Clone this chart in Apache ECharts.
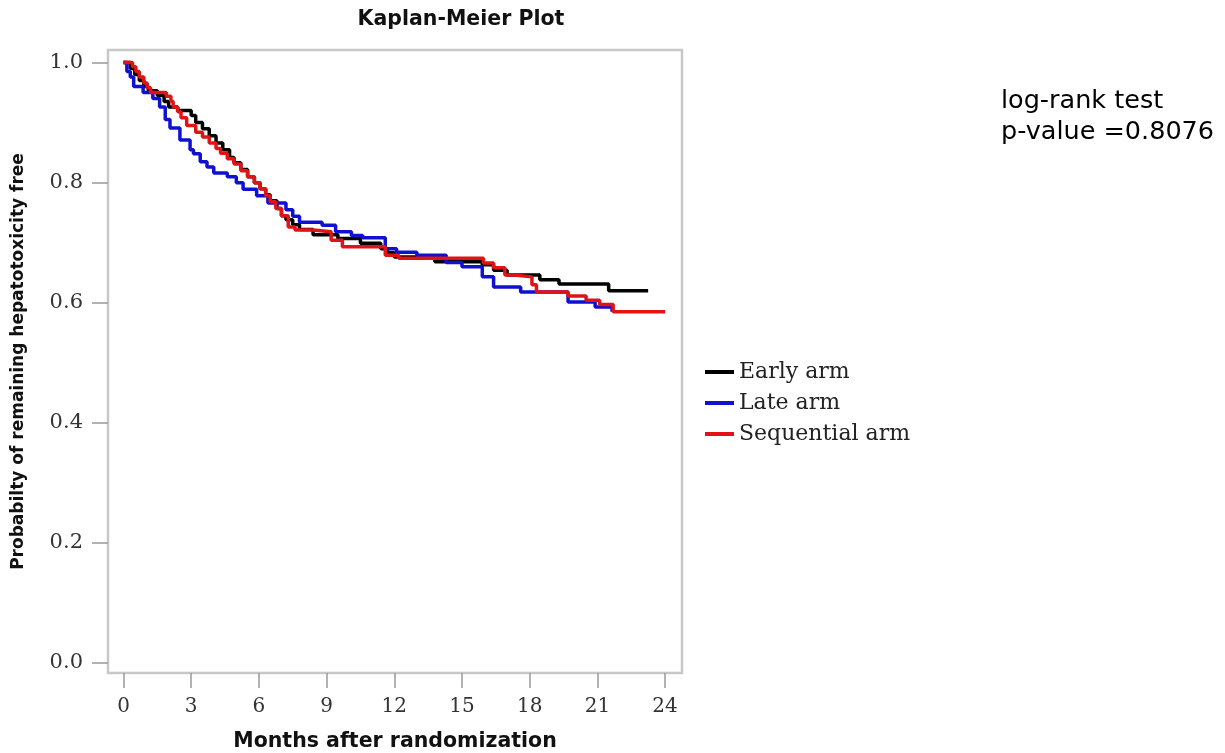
<!DOCTYPE html>
<html>
<head>
<meta charset="utf-8">
<script src="https://cdn.jsdelivr.net/npm/echarts@6/dist/echarts.min.js"></script>
<style>html,body{margin:0;padding:0;background:#fff;}#chart{width:1225px;height:753px;}</style>
</head>
<body>
<div id="chart"></div>
<script>
// ---- data ----
const seriesNames = ['Early arm', 'Late arm', 'Sequential arm'];
const xTicks = [0, 3, 6, 9, 12, 15, 18, 21, 24];
const yTicks = [0, 0.2, 0.4, 0.6, 0.8, 1.0];

const earlyT = [0, 0.3, 0.5, 0.7, 0.9, 1.1, 1.5, 1.8, 2.0, 2.4, 3.0, 3.2, 3.5, 3.8, 4.1, 4.4, 4.7, 4.9, 5.2, 5.5, 5.8, 6.05, 6.3, 6.5, 6.8, 7.0, 7.2, 7.5, 7.8, 8.4, 9.5, 10.5, 11.4, 11.7, 12.0, 13.8, 15.9, 16.4, 17.0, 18.45, 19.3, 21.5, 23.25];
const earlyS = [1.0, 0.99, 0.98, 0.97, 0.96, 0.953, 0.945, 0.935, 0.926, 0.92, 0.912, 0.9, 0.89, 0.878, 0.866, 0.855, 0.842, 0.833, 0.822, 0.81, 0.8, 0.79, 0.78, 0.77, 0.757, 0.745, 0.738, 0.73, 0.722, 0.713, 0.707, 0.699, 0.69, 0.683, 0.676, 0.668, 0.663, 0.654, 0.646, 0.638, 0.631, 0.62, 0.62];

const lateT = [0, 0.15, 0.3, 0.45, 0.87, 1.3, 1.6, 1.85, 2.06, 2.5, 2.95, 3.1, 3.4, 3.7, 4.0, 4.6, 5.0, 5.3, 5.9, 6.4, 7.2, 7.5, 7.8, 8.8, 9.4, 10.1, 10.6, 11.6, 12.1, 13.0, 14.3, 15.0, 15.9, 16.4, 17.6, 19.7, 20.9, 21.65];
const lateS = [1.0, 0.985, 0.976, 0.96, 0.95, 0.94, 0.926, 0.905, 0.891, 0.871, 0.855, 0.848, 0.835, 0.826, 0.816, 0.81, 0.8, 0.789, 0.778, 0.766, 0.755, 0.744, 0.734, 0.729, 0.718, 0.712, 0.708, 0.69, 0.684, 0.679, 0.667, 0.66, 0.643, 0.626, 0.618, 0.601, 0.593, 0.585];

const seqT = [0, 0.4, 0.55, 0.7, 0.9, 1.05, 1.2, 1.9, 2.1, 2.2, 2.4, 2.55, 2.8, 3.2, 3.5, 3.8, 4.1, 4.3, 4.6, 4.9, 5.2, 5.5, 5.8, 6.05, 6.3, 6.5, 6.75, 7.0, 7.3, 7.6, 8.4, 9.2, 9.7, 11.6, 12.2, 15.95, 16.4, 16.9, 17.3, 18.1, 18.3, 19.7, 20.5, 21.1, 21.7, 24.0];
const seqS = [1.0, 0.993, 0.985, 0.976, 0.966, 0.958, 0.95, 0.944, 0.935, 0.926, 0.918, 0.908, 0.895, 0.884, 0.876, 0.866, 0.857, 0.849, 0.84, 0.831, 0.82, 0.81, 0.8, 0.79, 0.778, 0.768, 0.757, 0.745, 0.726, 0.721, 0.718, 0.704, 0.693, 0.679, 0.674, 0.666, 0.658, 0.646, 0.643, 0.63, 0.618, 0.611, 0.604, 0.597, 0.585, 0.585];

const colors = ['#000000', '#1010d0', '#e01414'];

function zip(t, s) { return t.map((v, i) => [v, s[i]]); }
const allData = [zip(earlyT, earlyS), zip(lateT, lateS), zip(seqT, seqS)];

const chart = echarts.init(document.getElementById('chart'), null, { renderer: 'canvas' });
const serif = '"DejaVu Serif", "Liberation Serif", serif';
const sansB = '"DejaVu Sans", "Liberation Sans", sans-serif';

chart.setOption({
  animation: false,
  backgroundColor: '#ffffff',
  title: [
    { text: 'Kaplan-Meier Plot', left: 461, top: 9, textAlign: 'center', padding: 0,
      textStyle: { fontFamily: sansB, fontWeight: 'bold', fontSize: 20.5, color: '#111' } },
    { text: 'log-rank test\np-value =0.8076', left: 1001, top: 86, padding: 0,
      textStyle: { fontFamily: sansB, fontWeight: 'normal', fontSize: 25.5, lineHeight: 31, color: '#000' } }
  ],
  grid: { left: 108, right: 543, top: 50, bottom: 80, show: true, borderColor: '#c8c8c8', borderWidth: 2.5,
    backgroundColor: '#fff', outerBoundsMode: 'none', containLabel: false },
  legend: {
    orient: 'vertical', left: 705, top: 361, itemWidth: 29, itemHeight: 4, itemGap: 9, icon: 'rect',
    padding: 0,
    data: seriesNames,
    textStyle: { fontFamily: serif, fontSize: 22, lineHeight: 22, color: '#222' }
  },
  xAxis: {
    type: 'value', min: -0.687, max: 24.75,
    name: 'Months after randomization', nameLocation: 'middle', nameGap: 58,
    nameTextStyle: { fontFamily: sansB, fontWeight: 'bold', fontSize: 20.5, color: '#111' },
    axisLine: { show: false, onZero: false },
    axisTick: { show: true, length: 15, customValues: xTicks, lineStyle: { color: '#999', width: 1.5 } },
    axisLabel: { customValues: xTicks, margin: 24, fontFamily: serif, fontSize: 20, color: '#333' },
    splitLine: { show: false }
  },
  yAxis: {
    type: 'value', min: -0.017, max: 1.021,
    name: 'Probabilty of remaining hepatotoxicity free', nameLocation: 'middle', nameGap: 81,
    nameTextStyle: { fontFamily: sansB, fontWeight: 'bold', fontSize: 17, color: '#111' },
    axisLine: { show: false, onZero: false },
    axisTick: { show: true, length: 16, customValues: yTicks, lineStyle: { color: '#999', width: 1.5 } },
    axisLabel: { customValues: yTicks, margin: 25, fontFamily: serif, fontSize: 21, color: '#333',
      formatter: v => v.toFixed(1) },
    splitLine: { show: false }
  },
  series: seriesNames.map((name, i) => ({
    name: name, type: 'line', step: 'end', data: allData[i],
    showSymbol: false, symbol: 'none', color: colors[i],
    lineStyle: { color: colors[i], width: 3.5 }, z: i === 1 ? 3 : (i === 2 ? 4 : 2)
  }))
});
</script>
</body>
</html>
